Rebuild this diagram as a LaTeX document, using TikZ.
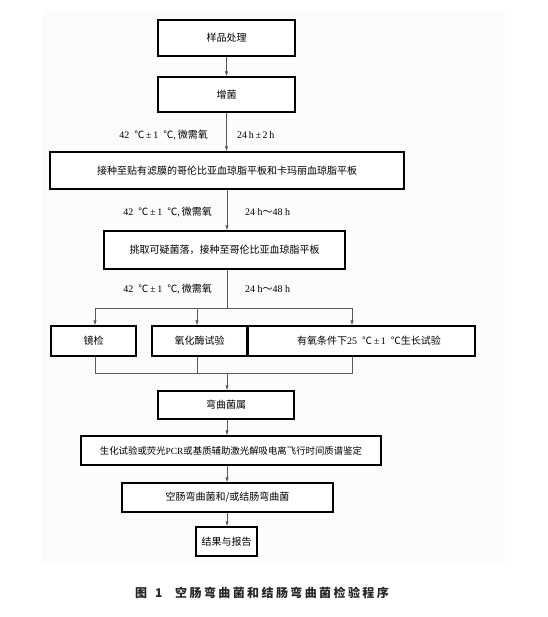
\documentclass[tikz,border=0pt]{standalone}
\usepackage{fontspec}
\setmainfont{Liberation Serif}
\newfontfamily\cjk{Noto Sans CJK SC}
\newfontfamily\cjkcap[LetterSpace=20]{Noto Sans CJK SC}
\usetikzlibrary{arrows.meta}
\newcommand\latn[1]{{\rmfamily #1}}
\newcommand\tempa{\latn{42}\hspace{5pt}℃\,\latn{±}\,\latn{1}\hspace{5pt}℃\latn{,}\hspace{2pt}微需氧}
\begin{document}
\begin{tikzpicture}[x=1pt,y=-1pt,
  box/.style={draw=black, line width=1.1pt, fill=white, inner sep=0pt, font=\cjk\fontsize{10}{12}\selectfont},
  conn/.style={draw=black!65, line width=0.6pt},
  arr/.style={conn, -{Latex[length=5pt,width=3.2pt]}},
  lbl/.style={font=\cjk\fontsize{10}{12}\selectfont, inner sep=0pt},
  captxt/.style={font=\cjkcap\bfseries\fontsize{12}{14}\selectfont, inner sep=0pt, text=black!85}]
\path[use as bounding box, fill=white] (0,0) rectangle (547,617);
\fill[black!1] (42,10) rectangle (505,564);
% boxes
\node[box, minimum width=137pt, minimum height=36pt] (b1) at (226.5,38) {样品处理};
\node[box, minimum width=137pt, minimum height=35pt] (b2) at (226.5,94.5) {增菌};
\node[box, minimum width=354pt, minimum height=37pt] (b3) at (227,170.5) {接种至贴有滤膜的哥伦比亚血琼脂平板和卡玛丽血琼脂平板};
\node[box, minimum width=241pt, minimum height=38pt] (b4) at (224.5,250) {挑取可疑菌落，接种至哥伦比亚血琼脂平板};
\node[box, minimum width=85pt, minimum height=30pt] (m1) at (93.5,341) {镜检};
\node[box, minimum width=95pt, minimum height=30pt] (m2) at (199.5,341) {氧化酶试验\hspace{9pt}};
\node[box, minimum width=227pt, minimum height=30pt] (m3) at (361.5,341) {\hspace*{15pt}有氧条件下\latn{25}\hspace{5pt}℃\,\latn{±}\,\latn{1}\hspace{5pt}℃生长试验};
\node[box, minimum width=136pt, minimum height=28pt] (b5) at (226,405) {弯曲菌属};
\node[box, minimum width=300pt, minimum height=29pt, font=\cjk\fontsize{9.4}{11}\selectfont] (b6) at (231,450.5) {生化试验或荧光\latn{PCR}或基质辅助激光解吸电离飞行时间质谱鉴定};
\node[box, minimum width=211pt, minimum height=29pt] (b7) at (227.5,497.5) {空肠弯曲菌和/或结肠弯曲菌};
\node[box, minimum width=61pt, minimum height=29pt] (b8) at (226.5,541.5) {结果与报告};
% branch coordinates
\coordinate (br) at (227,308);
\coordinate (brL) at (95,308);
\coordinate (brM) at (197,308);
\coordinate (brR) at (352,308);
\coordinate (jL) at (95,373);
\coordinate (jM) at (197,373);
\coordinate (jR) at (352,373);
\coordinate (jC) at (227,373);
% connectors
\draw[arr] (b1.south) -- (b2.north);
\draw[arr] (b2.south) -- (b2.south |- b3.north);
\draw[arr] (b3.south) -- (b3.south |- b4.north);
\draw[conn] (b4.south -| br) -- (br);
\draw[conn] (brL) -- (brR);
\draw[arr] (brL) -- (brL |- m1.north);
\draw[arr] (brM) -- (brM |- m2.north);
\draw[arr] (brR) -- (brR |- m3.north);
\draw[conn] (m1.south -| jL) -- (jL) -- (jR) -- (m3.south -| jR);
\draw[conn] (m2.south -| jM) -- (jM);
\draw[arr] (jC) -- (jC |- b5.north);
\draw[arr] (b5.south -| jC) -- (jC |- b6.north);
\draw[arr] (b6.south -| jC) -- (jC |- b7.north);
\draw[arr] (b7.south -| jC) -- (jC |- b8.north);
% labels
\node[lbl, anchor=east] (l1a) at (208,135) {\tempa};
\node[lbl, anchor=west] (l1b) at (237,135) {\latn{24\,h\,±\,2\,h}};
\node[lbl, anchor=east] (l2a) at (212,212) {\tempa};
\node[lbl, anchor=west] (l2b) at (245,212) {\latn{24 h}～\latn{48 h}};
\node[lbl, anchor=east] (l3a) at (212,289) {\tempa};
\node[lbl, anchor=west] (l3b) at (245,289) {\latn{24 h}～\latn{48 h}};
% caption
\node[captxt, anchor=west] (capA) at (135,593) {图\hspace{8pt}1};
\node[captxt, anchor=west] (capB) at (175,593) {空肠弯曲菌和结肠弯曲菌检验程序};
\end{tikzpicture}
\end{document}
